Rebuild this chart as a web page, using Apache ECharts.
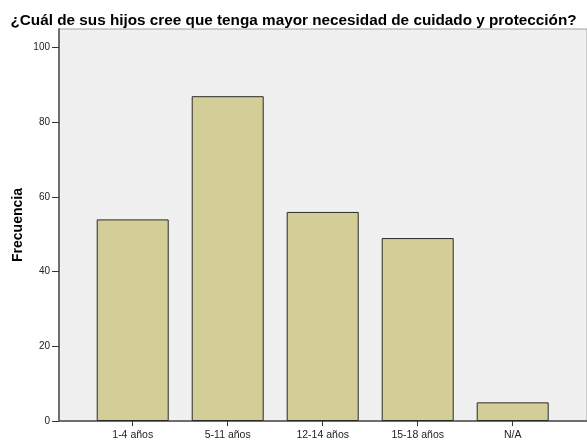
<!DOCTYPE html>
<html>
<head>
<meta charset="utf-8">
<script src="https://cdn.jsdelivr.net/npm/echarts@6/dist/echarts.min.js"></script>
<style>
  html, body { margin: 0; padding: 0; background: #ffffff; }
  #chart { width: 587px; height: 443px; }
</style>
</head>
<body>
<div id="chart"></div>
<script>
// Age groups and how many respondents chose each one
const categories = ['1-4 años', '5-11 años', '12-14 años', '15-18 años', 'N/A'];
const frequencies = [54, 87, 56, 49, 5];
const yTicks = [0, 20, 40, 60, 80, 100];
const titleText = '¿Cuál de sus hijos cree que tenga mayor necesidad de cuidado y protección?';
const yAxisName = 'Frecuencia';

const categoryIndex = categories.map((_, i) => i);
const barData = frequencies.map((v, i) => [i, v]);

const chart = echarts.init(document.getElementById('chart'), null, { renderer: 'canvas' });

chart.setOption({
  animation: false,
  backgroundColor: '#ffffff',
  title: {
    text: titleText,
    left: 'center',
    top: 8,
    textStyle: {
      fontFamily: 'Liberation Sans, Arial, sans-serif',
      fontWeight: 'bold',
      fontSize: 15.3,
      color: '#000000'
    }
  },
  grid: {
    left: 59,
    right: 0,
    top: 29,
    bottom: 22,
    outerBoundsMode: 'none',
    show: true,
    backgroundColor: '#f0f0f0',
    borderColor: '#a0a0a0',
    borderWidth: 1
  },
  xAxis: {
    type: 'value',
    min: -0.776,
    max: 4.782,
    splitLine: { show: false },
    axisLine: { show: true, onZero: false, lineStyle: { color: '#6e6e6e', width: 2 } },
    axisTick: {
      show: true,
      customValues: categoryIndex,
      length: 5,
      lineStyle: { color: '#333333', width: 1 }
    },
    axisLabel: {
      customValues: categoryIndex,
      margin: 9,
      fontFamily: 'Liberation Sans, Arial, sans-serif',
      fontSize: 10.5,
      color: '#222222',
      formatter: v => categories[Math.round(v)]
    }
  },
  yAxis: {
    type: 'value',
    min: 0,
    max: 105,
    name: yAxisName,
    nameLocation: 'middle',
    nameGap: 34,
    nameMoveOverlap: false,
    nameRotate: 90,
    nameTextStyle: {
      fontFamily: 'Liberation Sans, Arial, sans-serif',
      fontWeight: 'bold',
      fontSize: 14,
      color: '#000000'
    },
    splitLine: { show: false },
    axisLine: { show: true, onZero: false, lineStyle: { color: '#6e6e6e', width: 2 } },
    axisTick: {
      show: true,
      customValues: yTicks,
      length: 7,
      lineStyle: { color: '#333333', width: 1 }
    },
    axisLabel: {
      customValues: yTicks,
      margin: 9,
      fontFamily: 'Liberation Sans, Arial, sans-serif',
      fontSize: 10,
      color: '#222222'
    }
  },
  series: [{
    type: 'bar',
    data: barData,
    barWidth: 72,
    itemStyle: {
      color: '#d3ce97',
      borderColor: '#2a2a2a',
      borderWidth: 1
    }
  }]
});
</script>
</body>
</html>
